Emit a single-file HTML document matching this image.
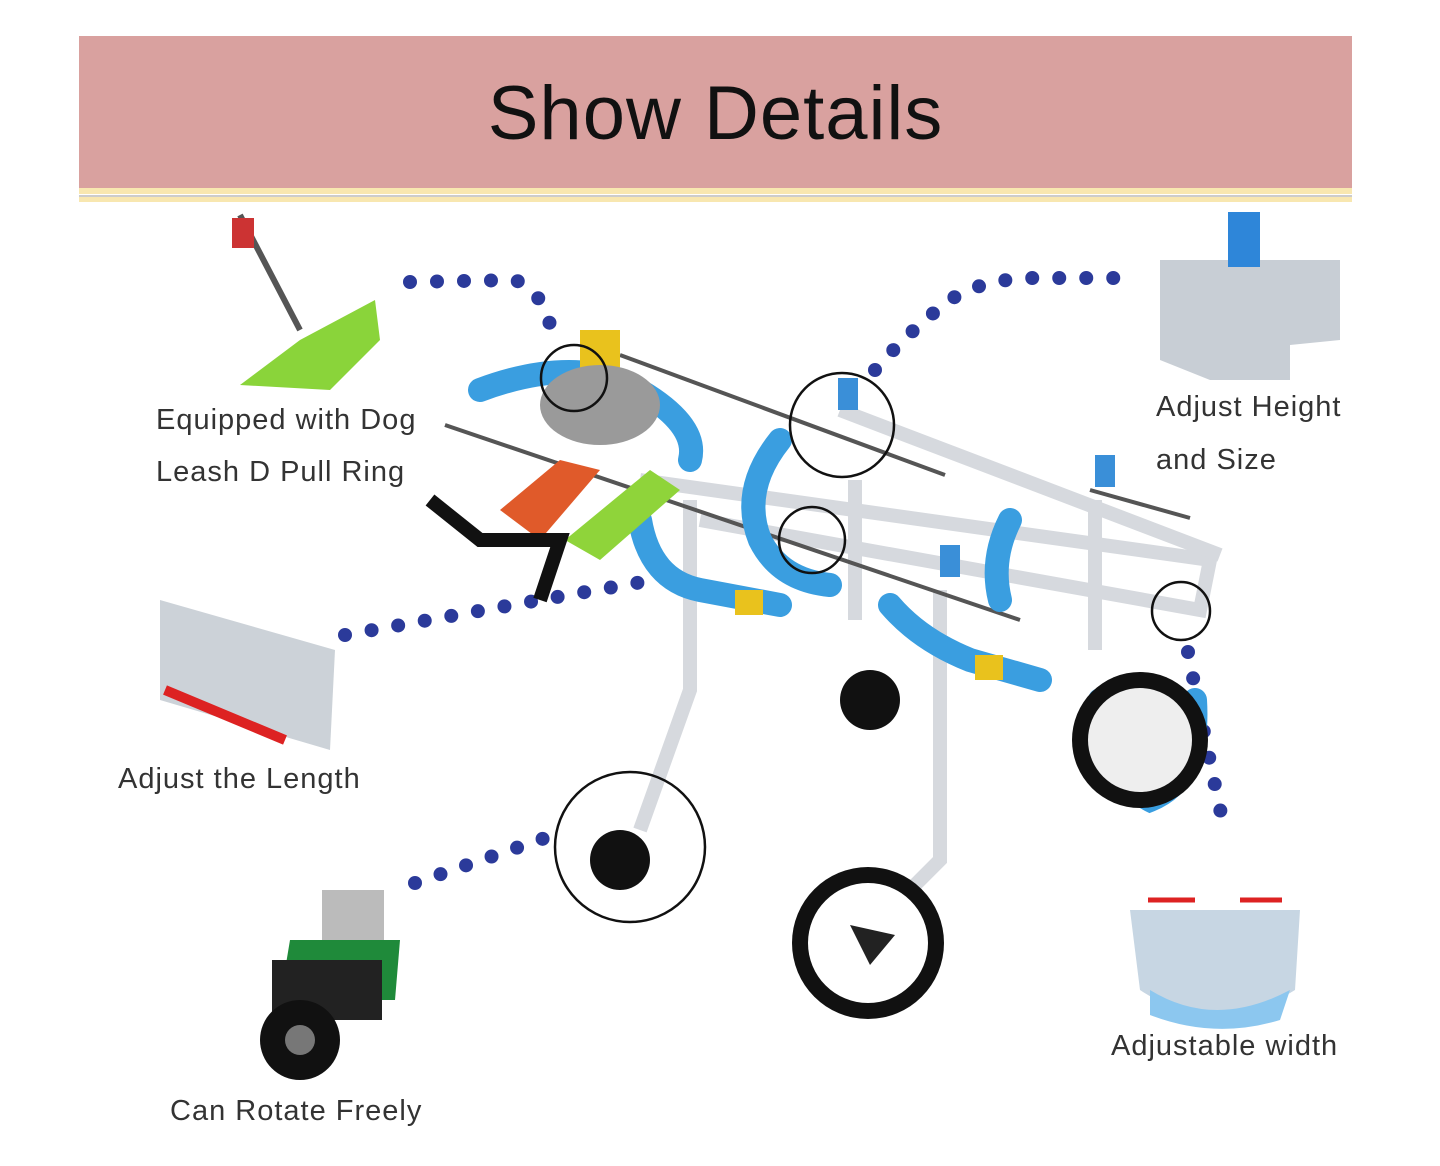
<!DOCTYPE html>
<html><head><meta charset="utf-8"><style>
body{margin:0;width:1440px;height:1166px;background:#fff;overflow:hidden;position:relative;font-family:"Liberation Sans",sans-serif}
.hd{position:absolute;left:79px;top:36px;width:1273px;height:152px;background:#d9a19f}
.hd span{position:absolute;left:0;right:0;top:34px;text-align:center;font-size:76px;color:#111;letter-spacing:1px}
.l{position:absolute;font-size:29px;color:#333;white-space:nowrap;letter-spacing:1px}
svg{position:absolute;left:0;top:0}
</style></head><body>
<div class="hd"><span>Show Details</span></div>
<div style="position:absolute;left:79px;top:188px;width:1273px;height:6px;background:#f8e7b0"></div>
<div style="position:absolute;left:79px;top:195px;width:1273px;height:2px;background:#ccc"></div>
<div style="position:absolute;left:79px;top:197px;width:1273px;height:5px;background:#f8e7b0"></div>
<svg width="1440" height="1166" viewBox="0 0 1440 1166">
<g fill="none" stroke="#2b3a9a" stroke-width="14" stroke-linecap="round" stroke-dasharray="0 27">
<path d="M410 282 L515 280 Q540 290 548 320 L560 342"/>
<path d="M875 370 Q910 330 950 300 Q980 280 1030 278 L1140 278"/>
<path d="M345 635 L540 600 L665 578"/>
<path d="M415 883 L545 838"/>
<path d="M1188 652 Q1205 740 1225 832"/>
</g>
<g stroke="#d6d9de" stroke-width="14" fill="none">
<path d="M640 480 L1210 560 L1200 610 L700 520"/>
<path d="M840 410 L1220 555"/>
<path d="M690 500 L690 690 L640 830"/>
<path d="M940 590 L940 860 L900 900"/>
<path d="M855 480 L855 620"/>
<path d="M1095 500 L1095 650"/>
</g>
<g stroke="#555" stroke-width="4"><line x1="620" y1="355" x2="945" y2="475"/><line x1="445" y1="425" x2="1020" y2="620"/><line x1="1090" y1="490" x2="1190" y2="518"/></g>
<g fill="none" stroke="#3a9ee0" stroke-width="24" stroke-linecap="round">
<path d="M780 440 Q740 490 760 540 Q780 580 830 585"/>
<path d="M1010 520 Q990 560 1000 600"/>
<path d="M640 520 Q650 580 700 590 L780 605"/>
<path d="M890 605 Q920 640 970 660 L1040 680"/>
<path d="M1100 700 Q1110 780 1150 800 Q1200 780 1195 700"/>
<path d="M480 390 Q560 360 620 380 Q700 420 690 460"/>
</g>
<g fill="#e9c21d"><rect x="735" y="590" width="28" height="25"/><rect x="975" y="655" width="28" height="25"/><rect x="580" y="330" width="40" height="40"/></g>
<ellipse cx="600" cy="405" rx="60" ry="40" fill="#9a9a9a"/>
<path d="M500 510 L560 460 L600 470 L540 540 Z" fill="#e05a2a"/>
<path d="M565 540 L650 470 L680 490 L600 560 Z" fill="#8fd43a"/>
<path d="M430 500 L480 540 L560 540 L540 600" stroke="#111" stroke-width="14" fill="none"/>
<circle cx="868" cy="943" r="76" fill="#111"/><circle cx="868" cy="943" r="60" fill="#fff"/><path d="M850 925 L895 935 L870 965Z" fill="#222"/>
<circle cx="1140" cy="740" r="68" fill="#111"/><circle cx="1140" cy="740" r="52" fill="#eee"/>
<circle cx="870" cy="700" r="30" fill="#111"/><circle cx="620" cy="860" r="30" fill="#111"/>
<g fill="#3a8fd8"><rect x="838" y="378" width="20" height="32"/><rect x="1095" y="455" width="20" height="32"/><rect x="940" y="545" width="20" height="32"/></g>
<g fill="none" stroke="#111" stroke-width="2.5">
<circle cx="574" cy="378" r="33"/><circle cx="842" cy="425" r="52"/><circle cx="812" cy="540" r="33"/>
<circle cx="1181" cy="611" r="29"/><circle cx="630" cy="847" r="75"/></g>
<path d="M240 385 L300 340 L375 300 L380 340 L330 390 Z" fill="#8ad43a"/><path d="M240 215 L300 330" stroke="#555" stroke-width="6"/><rect x="232" y="218" width="22" height="30" fill="#c33"/>
<path d="M160 600 L335 650 L330 750 L160 700 Z" fill="#ccd2d8"/><path d="M165 690 L285 740" stroke="#d22" stroke-width="10"/>
<path d="M1160 260 L1340 260 L1340 340 L1290 345 L1290 380 L1210 380 L1160 360Z" fill="#c8ced5"/><rect x="1228" y="212" width="32" height="55" fill="#2e86d9"/>
<path d="M1130 910 L1300 910 L1295 990 Q1215 1040 1140 990Z" fill="#c7d6e3"/><path d="M1150 990 Q1215 1030 1290 990 L1280 1020 Q1215 1040 1150 1015Z" fill="#8cc7ef"/>
<g stroke="#d22" stroke-width="5"><line x1="1148" y1="900" x2="1195" y2="900"/><line x1="1240" y1="900" x2="1282" y2="900"/></g>
<rect x="322" y="890" width="62" height="60" fill="#bbb"/><path d="M290 940 L400 940 L395 1000 L280 1000Z" fill="#1f8a3a"/><rect x="272" y="960" width="110" height="60" fill="#222"/><circle cx="300" cy="1040" r="40" fill="#111"/><circle cx="300" cy="1040" r="15" fill="#777"/>
</svg>
<div class="l" style="left:156px;top:404px">Equipped with Dog</div>
<div class="l" style="left:156px;top:456px">Leash D Pull Ring</div>
<div class="l" style="left:1156px;top:391px">Adjust Height</div>
<div class="l" style="left:1156px;top:444px">and Size</div>
<div class="l" style="left:118px;top:763px">Adjust the Length</div>
<div class="l" style="left:1111px;top:1030px">Adjustable width</div>
<div class="l" style="left:170px;top:1095px">Can Rotate Freely</div>
</body></html>
